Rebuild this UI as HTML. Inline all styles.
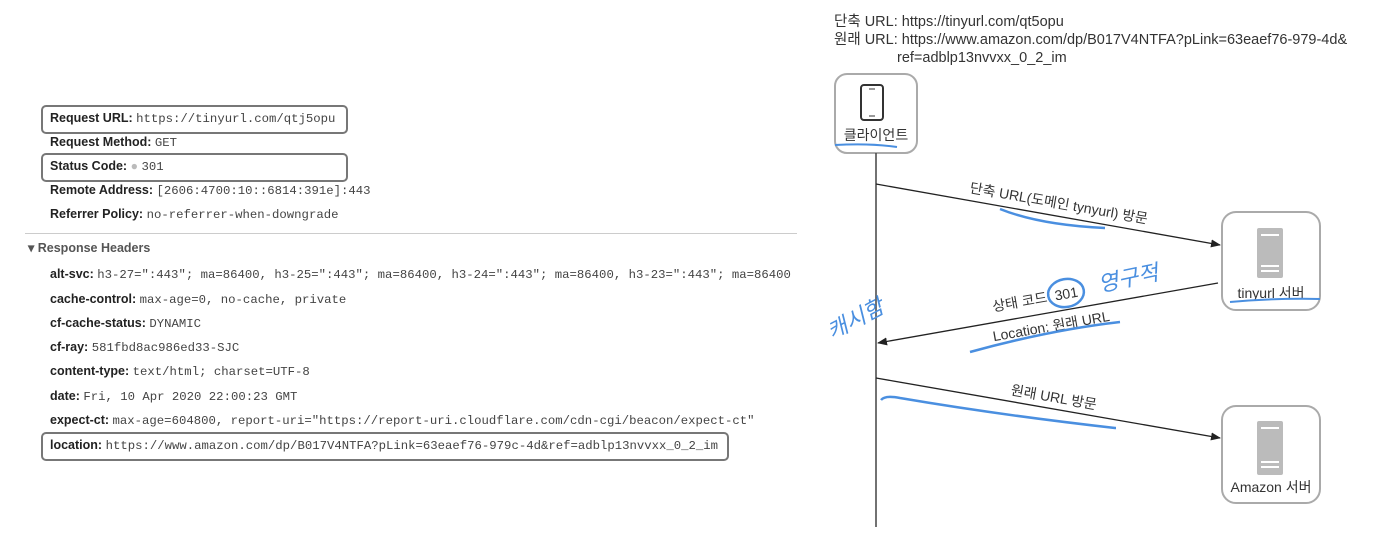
<!DOCTYPE html>
<html><head><meta charset="utf-8"><style>
body{margin:0;width:1396px;height:539px;background:#fff;position:relative;overflow:hidden;font-family:"Liberation Sans","Noto Sans CJK KR",sans-serif;color:#333}
.r{position:absolute;left:50px;font-size:12.5px;white-space:nowrap}
.r b{font-weight:bold;color:#222}
.r span{font-family:"Liberation Mono",monospace;font-size:12.3px;color:#444}
.box{position:absolute;border:2px solid #777;border-radius:5px}
</style></head><body>
<div class="box" style="left:41px;top:105px;width:303px;height:25px"></div>
<div class="box" style="left:41px;top:153px;width:303px;height:25px"></div>
<div class="box" style="left:41px;top:432px;width:684px;height:25px"></div>
<div class="r" style="top:111px"><b>Request URL:</b> <span>https://tinyurl.com/qtj5opu</span></div>
<div class="r" style="top:135px"><b>Request Method:</b> <span>GET</span></div>
<div class="r" style="top:159px"><b>Status Code:</b> <span style="color:#bbb">●</span> <span>301</span></div>
<div class="r" style="top:183px"><b>Remote Address:</b> <span>[2606:4700:10::6814:391e]:443</span></div>
<div class="r" style="top:207px"><b>Referrer Policy:</b> <span>no-referrer-when-downgrade</span></div>
<div style="position:absolute;left:25px;top:233px;width:772px;height:1px;background:#ccc"></div>
<div class="r" style="left:28px;top:240px;color:#555"><b style="color:#555">▾ Response Headers</b></div>
<div class="r" style="top:267px"><b>alt-svc:</b> <span>h3-27=":443"; ma=86400, h3-25=":443"; ma=86400, h3-24=":443"; ma=86400, h3-23=":443"; ma=86400</span></div>
<div class="r" style="top:292px"><b>cache-control:</b> <span>max-age=0, no-cache, private</span></div>
<div class="r" style="top:316px"><b>cf-cache-status:</b> <span>DYNAMIC</span></div>
<div class="r" style="top:340px"><b>cf-ray:</b> <span>581fbd8ac986ed33-SJC</span></div>
<div class="r" style="top:364px"><b>content-type:</b> <span>text/html; charset=UTF-8</span></div>
<div class="r" style="top:389px"><b>date:</b> <span>Fri, 10 Apr 2020 22:00:23 GMT</span></div>
<div class="r" style="top:413px"><b>expect-ct:</b> <span>max-age=604800, report-uri="https://report-uri.cloudflare.com/cdn-cgi/beacon/expect-ct"</span></div>
<div class="r" style="top:438px"><b>location:</b> <span>https://www.amazon.com/dp/B017V4NTFA?pLink=63eaef76-979c-4d&amp;ref=adblp13nvvxx_0_2_im</span></div>

<svg width="1396" height="539" style="position:absolute;left:0;top:0" font-family="Liberation Sans,Noto Sans CJK KR,sans-serif">
<defs><marker id="a" markerWidth="10" markerHeight="8" refX="9" refY="4" orient="auto" markerUnits="userSpaceOnUse"><path d="M0,0L10,4L0,8z" fill="#222"/></marker></defs>
<g font-size="14.5" fill="#333">
<text x="834" y="26">단축 URL: https://tinyurl.com/qt5opu</text>
<text x="834" y="44">원래 URL: https://www.amazon.com/dp/B017V4NTFA?pLink=63eaef76-979-4d&amp;</text>
<text x="897" y="62">ref=adblp13nvvxx_0_2_im</text>
</g>
<rect x="835" y="74" width="82" height="79" rx="12" fill="#fff" stroke="#aaa" stroke-width="2"/>
<rect x="861" y="85" width="22" height="35" rx="3" fill="none" stroke="#333" stroke-width="2"/>
<line x1="869" y1="89" x2="875" y2="89" stroke="#333"/><line x1="869" y1="116" x2="875" y2="116" stroke="#333"/>
<text x="876" y="140" font-size="14" text-anchor="middle" fill="#333">클라이언트</text>
<path d="M835,145 Q870,143 897,147" stroke="#4a8fe0" stroke-width="2" fill="none"/>
<line x1="876" y1="153" x2="876" y2="527" stroke="#444" stroke-width="1.5"/>
<rect x="1222" y="212" width="98" height="98" rx="14" fill="#fff" stroke="#aaa" stroke-width="2"/>
<rect x="1257" y="228" width="26" height="50" rx="2" fill="#bbb"/>
<line x1="1261" y1="235" x2="1279" y2="235" stroke="#fff" stroke-width="2"/><line x1="1261" y1="266" x2="1279" y2="266" stroke="#fff" stroke-width="2"/><line x1="1261" y1="271" x2="1279" y2="271" stroke="#fff" stroke-width="2"/>
<text x="1271" y="298" font-size="14" text-anchor="middle" fill="#333">tinyurl 서버</text>
<path d="M1230,302 Q1275,298 1320,299" stroke="#4a8fe0" stroke-width="2" fill="none"/>
<rect x="1222" y="406" width="98" height="97" rx="14" fill="#fff" stroke="#aaa" stroke-width="2"/>
<rect x="1257" y="421" width="26" height="54" rx="2" fill="#bbb"/>
<line x1="1261" y1="428" x2="1279" y2="428" stroke="#fff" stroke-width="2"/><line x1="1261" y1="462" x2="1279" y2="462" stroke="#fff" stroke-width="2"/><line x1="1261" y1="467" x2="1279" y2="467" stroke="#fff" stroke-width="2"/>
<text x="1271" y="492" font-size="14" text-anchor="middle" fill="#333">Amazon 서버</text>
<line x1="876" y1="184" x2="1220" y2="245" stroke="#222" stroke-width="1.3" marker-end="url(#a)"/>
<line x1="1218" y1="283" x2="878" y2="343" stroke="#222" stroke-width="1.3" marker-end="url(#a)"/>
<line x1="876" y1="378" x2="1220" y2="438" stroke="#222" stroke-width="1.3" marker-end="url(#a)"/>
<g font-size="14" fill="#333" text-anchor="middle">
<text transform="translate(1058,208) rotate(10)">단축 URL(도메인 tynyurl) 방문</text>
<text transform="translate(1036,304) rotate(-10)">상태 코드: 301</text>
<text transform="translate(1052,331) rotate(-10)">Location: 원래 URL</text>
<text transform="translate(1053,402) rotate(10)">원래 URL 방문</text>
</g>
<g stroke="#4a8fe0" stroke-width="2.5" fill="none">
<path d="M1000,209 Q1040,225 1105,228"/>
<path d="M970,352 Q1050,330 1120,322"/>
<path d="M881,400 Q885,395 900,398 Q1000,415 1115,428 L1116,428"/>
<ellipse cx="1066" cy="293" rx="18" ry="14" transform="rotate(-10 1066 293)"/>
</g>
<g fill="#4a8fe0" font-size="22" font-style="italic">
<text transform="translate(832,340) rotate(-28)">캐시함</text>
<text transform="translate(1100,292) rotate(-12)">영구적</text>
</g>
</svg>
</body></html>
